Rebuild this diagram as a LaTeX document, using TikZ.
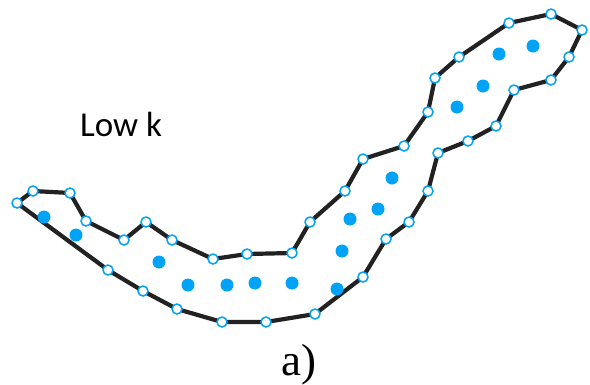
\documentclass[tikz,border=0pt]{standalone}
\usepackage{fontspec}
\setmainfont{Liberation Serif}
\newfontfamily\calfont{Carlito}
\definecolor{ptblue}{RGB}{0,163,245}
\definecolor{edgeblack}{RGB}{34,34,34}
\tikzset{
  vtx/.style={circle, draw=ptblue, fill=white, line width=1.5pt, inner sep=0pt, minimum size=10pt},
  dotpt/.style={circle, fill=ptblue, inner sep=0pt, minimum size=13pt},
  edge/.style={draw=edgeblack, line width=4.2pt, line join=round},
}
\begin{document}
\begin{tikzpicture}[x=1pt,y=-1pt]
\useasboundingbox (0,0) rectangle (590,384);
% boundary vertices
\foreach \n/\x/\y in {
 v1/17/203, v2/33/191, v3/70/193, v4/86/221, v5/124/240, v6/146/222, v7/172/240,
 v8/213/259, v9/247/254, v10/292/253, v11/310/222, v12/345/191, v13/363/159,
 v14/404/146, v15/428/112, v16/435/78, v17/459/57, v18/509/23, v19/551/14,
 v20/582/30, v21/569/57, v22/551/80, v23/514/90, v24/496/126, v25/468/141,
 v26/438/153, v27/428/191, v28/409/222, v29/386/239, v30/363/277, v31/315/314,
 v32/266/322, v33/222/322, v34/177/309, v35/143/291, v36/108/270}
 {\coordinate (\n) at (\x,\y);}
\draw[edge] (v1)--(v2)--(v3)--(v4)--(v5)--(v6)--(v7)--(v8)--(v9)--(v10)--(v11)--(v12)--(v13)--(v14)--(v15)--(v16)--(v17)--(v18)--(v19)--(v20)--(v21)--(v22)--(v23)--(v24)--(v25)--(v26)--(v27)--(v28)--(v29)--(v30)--(v31)--(v32)--(v33)--(v34)--(v35)--(v36)--cycle;
\foreach \i in {1,...,36} {\node[vtx] (m\i) at (v\i) {};}
% interior points
\foreach \n/\x/\y in {
 d1/44/217, d2/76/235, d3/159/262, d4/188/285, d5/227/285, d6/255/283, d7/292/283,
 d8/337/289, d9/342/251, d10/350/219, d11/378/209, d12/392/178,
 d13/457/107, d14/483/86, d15/499/54, d16/533/46}
 {\node[dotpt] (\n) at (\x,\y) {};}
\node[font=\calfont\fontsize{35}{38}\selectfont, anchor=base west, inner sep=0pt] (lowk) at (80,136) {Low k};
\node[font=\fontsize{45}{48}\selectfont, anchor=base west, inner sep=0pt] (lbl) at (281,375) {a)};
\end{tikzpicture}
\end{document}
